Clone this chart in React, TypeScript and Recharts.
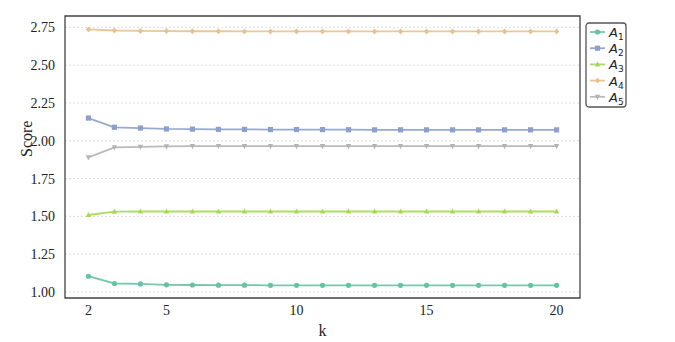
import React from "react";
import { LineChart, Line, XAxis, YAxis, CartesianGrid, ReferenceArea } from "recharts";

const kValues = [2, 3, 4, 5, 6, 7, 8, 9, 10, 11, 12, 13, 14, 15, 16, 17, 18, 19, 20];
const a1 = [1.104, 1.056, 1.053, 1.047, 1.046, 1.045, 1.045, 1.044, 1.044, 1.044, 1.044, 1.044, 1.044, 1.044, 1.044, 1.044, 1.044, 1.044, 1.044];
const a2 = [2.150, 2.089, 2.084, 2.078, 2.077, 2.075, 2.075, 2.074, 2.074, 2.074, 2.073, 2.072, 2.072, 2.072, 2.072, 2.072, 2.072, 2.072, 2.072];
const a3 = [1.509, 1.531, 1.532, 1.532, 1.532, 1.532, 1.532, 1.532, 1.532, 1.532, 1.532, 1.532, 1.532, 1.532, 1.532, 1.532, 1.532, 1.532, 1.532];
const a4 = [2.736, 2.729, 2.726, 2.725, 2.724, 2.724, 2.723, 2.723, 2.723, 2.723, 2.723, 2.723, 2.723, 2.723, 2.723, 2.723, 2.723, 2.723, 2.723];
const a5 = [1.890, 1.956, 1.959, 1.963, 1.964, 1.964, 1.965, 1.965, 1.965, 1.965, 1.965, 1.965, 1.965, 1.965, 1.965, 1.965, 1.965, 1.965, 1.965];
const xTicks = [2, 5, 10, 15, 20];
const yTicks = [1.0, 1.25, 1.5, 1.75, 2.0, 2.25, 2.5, 2.75];

const series = [
  { key: "a1", sub: "1", color: "#66c2a5", shape: "circle" },
  { key: "a2", sub: "2", color: "#8da0cb", shape: "square" },
  { key: "a3", sub: "3", color: "#a6d854", shape: "triangle" },
  { key: "a4", sub: "4", color: "#e9c08e", shape: "diamond" },
  { key: "a5", sub: "5", color: "#b3b3b3", shape: "tridown" },
];

const data = kValues.map((k, i) => ({ k, a1: a1[i], a2: a2[i], a3: a3[i], a4: a4[i], a5: a5[i] }));

const serif = "'Liberation Serif', 'Times New Roman', serif";

function Marker({ cx, cy, shape, color }: any) {
  if (cx == null || cy == null) return null;
  const s = 2.6;
  if (shape === "circle") return <circle cx={cx} cy={cy} r={s} fill={color} />;
  if (shape === "square") return <rect x={cx - s} y={cy - s} width={2 * s} height={2 * s} fill={color} />;
  if (shape === "triangle")
    return <polygon points={`${cx},${cy - s - 0.5} ${cx - s},${cy + s - 0.5} ${cx + s},${cy + s - 0.5}`} fill={color} />;
  if (shape === "diamond")
    return <polygon points={`${cx},${cy - s - 0.4} ${cx + s},${cy} ${cx},${cy + s + 0.4} ${cx - s},${cy}`} fill={color} />;
  return <polygon points={`${cx - s},${cy - s + 0.5} ${cx + s},${cy - s + 0.5} ${cx},${cy + s + 0.5}`} fill={color} />;
}

function XTick({ x, y, payload }: any) {
  return (
    <text x={x} y={y + 9} textAnchor="middle" fontFamily={serif} fontSize={14} fill="#222">
      {payload.value}
    </text>
  );
}

function YTick({ x, y, payload }: any) {
  return (
    <text x={x - 2} y={y + 5} textAnchor="end" fontFamily={serif} fontSize={14} fill="#222">
      {Number(payload.value).toFixed(2)}
    </text>
  );
}

function LegendBox() {
  return (
    <svg width={42} height={86} style={{ display: "block" }}>
      <rect x={1} y={1} width={40} height={84} rx={3} fill="#fff" stroke="#555" strokeWidth={1.3} />
      {series.map((s, i) => {
        const y = 10 + i * 16.2;
        return (
          <g key={s.key}>
            <line x1={5} x2={20} y1={y} y2={y} stroke={s.color} strokeWidth={1.8} strokeOpacity={0.9} />
            <Marker cx={12.5} cy={y} shape={s.shape} color={s.color} />
            <text x={24} y={y + 5} fontFamily="DejaVu Sans" fontSize={13} fontStyle="italic" fill="#222">
              A<tspan fontSize={9} dy={3} fontStyle="normal">{s.sub}</tspan>
            </text>
          </g>
        );
      })}
    </svg>
  );
}

export default function App() {
  return (
    <div style={{ position: "absolute", left: 0, top: 0, width: 675, height: 342, background: "#fff" }}>
      <LineChart width={675} height={342} data={data} margin={{ top: 16, right: 95, left: 0, bottom: 0 }}>
        <CartesianGrid vertical={false} stroke="#d4d4d4" strokeDasharray="2 2" strokeWidth={0.8} />
        <XAxis
          dataKey="k"
          type="number"
          domain={[1.1, 20.9]}
          ticks={xTicks}
          allowDataOverflow
          height={44}
          axisLine={false}
          tickLine={false}
          tick={<XTick />}
          label={{ value: "k", position: "insideBottom", offset: 6, fontFamily: serif, fontSize: 16, fill: "#222" }}
        />
        <YAxis
          type="number"
          domain={[0.96, 2.825]}
          ticks={yTicks}
          allowDataOverflow
          width={65}
          axisLine={false}
          tickLine={false}
          tick={<YTick />}
          label={{ value: "Score", angle: -90, position: "insideLeft", offset: 26, fontFamily: serif, fontSize: 16, fill: "#222" }}
        />
        <ReferenceArea x1={1.1} x2={20.9} y1={0.96} y2={2.825} fill="none" stroke="#444" strokeWidth={1.3} ifOverflow="visible" />
        {series.map((s) => (
          <Line
            key={s.key}
            dataKey={s.key}
            stroke={s.color}
            strokeWidth={1.8}
            strokeOpacity={0.9}
            isAnimationActive={false}
            dot={(p: any) => <Marker key={`${s.key}-${p.index}`} cx={p.cx} cy={p.cy} shape={s.shape} color={s.color} />}
            activeDot={false}
          />
        ))}
      </LineChart>
      <div style={{ position: "absolute", left: 585, top: 22 }}>
        <LegendBox />
      </div>
    </div>
  );
}
